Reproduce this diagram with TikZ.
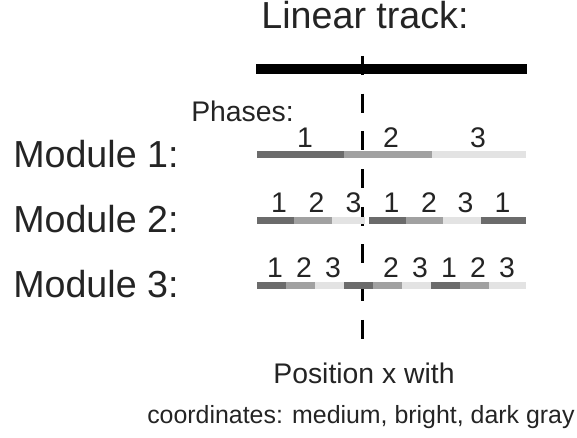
\documentclass[tikz,border=0pt]{standalone}
\usepackage{fontspec}
\setmainfont{Liberation Sans}
\definecolor{dk}{gray}{.42}
\definecolor{md}{gray}{.63}
\definecolor{lt}{gray}{.89}
\definecolor{ink}{gray}{.14}
\begin{document}
\begin{tikzpicture}[x=1in,y=1in,text=ink,
  big/.style={font=\fontsize{27.2}{31}\selectfont,inner sep=0},
  mid/.style={font=\fontsize{20.5}{24}\selectfont,inner sep=0,anchor=base},
  seg/.style={line width=.07in}]
\useasboundingbox (0,0) rectangle (5.77,4.37);
\node[big,anchor=base] (title) at (3.65,4.08){Linear track:};
\draw[line width=.1in] (2.56,3.68)--(5.27,3.68);
\coordinate (xtop) at (3.625,3.81);\coordinate (xbot) at (3.625,0.97);
\draw[line width=.03in,dash pattern=on .19in off .187in] (xtop)--(xbot);
\node[mid,anchor=base west] (phases) at (1.91,3.15){Phases:};
\node[big,anchor=base west] (mod1) at (0.13,2.69){Module 1:};
\node[big,anchor=base west] (mod2) at (0.13,2.04){Module 2:};
\node[big,anchor=base west] (mod3) at (0.13,1.39){Module 3:};
% phase bars, one row per module
\foreach \a/\b/\c in {2.57/3.44/dk,3.44/4.32/md,4.32/5.26/lt}
  \draw[seg,\c] (\a,2.825)--(\b,2.825);
\foreach \a/\b/\c in {2.57/2.943/dk,2.943/3.316/md,3.316/3.65/lt,3.69/4.06/dk,4.06/4.43/md,4.43/4.81/lt,4.81/5.26/dk}
  \draw[seg,\c] (\a,2.165)--(\b,2.165);
\foreach \a/\b/\c in {2.57/2.86/dk,2.86/3.15/md,3.15/3.44/lt,3.44/3.73/dk,3.73/4.02/md,4.02/4.31/lt,4.31/4.60/dk,4.60/4.89/md,4.89/5.26/lt}
  \draw[seg,\c] (\a,1.515)--(\b,1.515);
\foreach \x/\t [count=\i] in {3.05/1,3.91/2,4.78/3}
  \node[mid] (pa\i) at (\x,2.89){\t};
\foreach \x/\t [count=\i] in {2.79/1,3.165/2,3.535/3,3.915/1,4.29/2,4.655/3,5.025/1}
  \node[mid] (pb\i) at (\x,2.24){\t};
\foreach \x/\t [count=\i] in {2.75/1,3.04/2,3.33/3,3.91/2,4.20/3,4.49/1,4.78/2,5.07/3}
  \node[mid] (pc\i) at (\x,1.59){\t};
\node[mid] (pos) at (3.64,0.54){Position x with};
\node[inner sep=0,anchor=base west,font=\fontsize{18}{22}\selectfont] (coords) at (1.47,0.14){coordinates: medium, bright, dark gray};
\end{tikzpicture}
\end{document}
